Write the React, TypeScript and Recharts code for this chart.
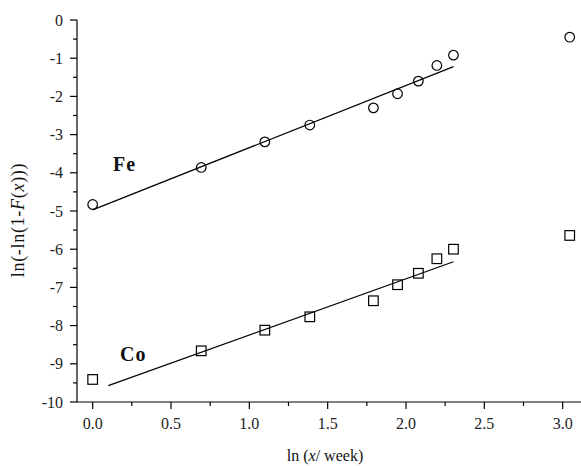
import {
  ComposedChart,
  Scatter,
  XAxis,
  YAxis,
  ReferenceLine,
} from 'recharts';

// ln(week) for weeks 1,2,3,4,6,7,8,9,10,21
const lnWeek = [0, 0.693, 1.099, 1.386, 1.792, 1.946, 2.079, 2.197, 2.303, 3.045];
const feValues = [-4.83, -3.86, -3.19, -2.75, -2.3, -1.93, -1.6, -1.19, -0.92, -0.45];
const coValues = [-9.41, -8.66, -8.12, -7.77, -7.35, -6.93, -6.63, -6.25, -6.0, -5.64];

// fitted lines, end points
const feFit = [
  { x: 0, y: -4.97 },
  { x: 2.303, y: -1.22 },
];
const coFit = [
  { x: 0.1, y: -9.57 },
  { x: 2.303, y: -6.33 },
];

const xMajor = [0, 0.5, 1, 1.5, 2, 2.5, 3];
const xTicks = [0, 0.25, 0.5, 0.75, 1, 1.25, 1.5, 1.75, 2, 2.25, 2.5, 2.75, 3];
const yMajor = [0, -1, -2, -3, -4, -5, -6, -7, -8, -9, -10];
const yTicks = [
  0, -0.5, -1, -1.5, -2, -2.5, -3, -3.5, -4, -4.5, -5, -5.5, -6, -6.5, -7, -7.5,
  -8, -8.5, -9, -9.5, -10,
];

const feData = lnWeek.map((x, i) => ({ x, y: feValues[i] }));
const coData = lnWeek.map((x, i) => ({ x, y: coValues[i] }));

const FONT = '"Liberation Serif", "Times New Roman", serif';

const XTick = (props: any) => {
  const { x, y, payload } = props;
  const major = xMajor.some((v) => Math.abs(v - payload.value) < 1e-6);
  return (
    <g>
      <line x1={x} y1={y} x2={x} y2={y + (major ? 7 : 4)} stroke='#000' strokeWidth={1.2} />
      {major && (
        <text x={x} y={y + 27} textAnchor='middle' fontSize={16} fontFamily={FONT} fill='#222'>
          {payload.value.toFixed(1)}
        </text>
      )}
    </g>
  );
};

const YTick = (props: any) => {
  const { x, y, payload } = props;
  const major = yMajor.some((v) => Math.abs(v - payload.value) < 1e-6);
  return (
    <g>
      <line x1={x} y1={y} x2={x - (major ? 7 : 4)} y2={y} stroke='#000' strokeWidth={1.2} />
      {major && (
        <text x={x - 14} y={y + 5.5} textAnchor='end' fontSize={16} fontFamily={FONT} fill='#222'>
          {payload.value}
        </text>
      )}
    </g>
  );
};

const CircleMark = (props: any) => (
  <circle cx={props.cx} cy={props.cy} r={4.8} fill='none' stroke='#000' strokeWidth={1.2} />
);

const SquareMark = (props: any) => (
  <rect x={props.cx - 4.8} y={props.cy - 4.8} width={9.6} height={9.6} fill='none' stroke='#000' strokeWidth={1.2} />
);

const App = () => {
  return (
    <div style={{ position: 'absolute', left: 0, top: 0, background: '#fff' }}>
      <ComposedChart
        width={581}
        height={466}
        margin={{ top: 20, right: 0, bottom: 0, left: 0 }}
      >
        <XAxis
          type='number'
          dataKey='x'
          domain={[-0.1, 3.117]}
          ticks={xTicks}
          interval={0}
          allowDataOverflow
          height={64}
          tickSize={0}
          tickMargin={0}
          tick={<XTick />}
          axisLine={{ stroke: '#000', strokeWidth: 1.2 }}
        />
        <YAxis
          type='number'
          dataKey='y'
          domain={[-10, 0]}
          ticks={yTicks}
          interval={0}
          allowDataOverflow
          width={77}
          tickSize={0}
          tickMargin={0}
          tick={<YTick />}
          axisLine={{ stroke: '#000', strokeWidth: 1.2 }}
        />
        <ReferenceLine segment={feFit} stroke='#000' strokeWidth={1.2} ifOverflow='visible' />
        <ReferenceLine segment={coFit} stroke='#000' strokeWidth={1.2} ifOverflow='visible' />
        <Scatter data={feData} shape={<CircleMark />} isAnimationActive={false} />
        <Scatter data={coData} shape={<SquareMark />} isAnimationActive={false} />
        <text x={113} y={171} fontSize={20} fontWeight='bold' letterSpacing={1} fontFamily={FONT} fill='#111'>
          Fe
        </text>
        <text x={120} y={361} fontSize={20} fontWeight='bold' letterSpacing={1} fontFamily={FONT} fill='#111'>
          Co
        </text>
        <text x={325} y={461} textAnchor='middle' fontSize={16} fontFamily={FONT} fill='#111'>
          ln (<tspan fontStyle='italic'>x</tspan>/ week)
        </text>
        <text
          x={0}
          y={0}
          transform='translate(24, 220) rotate(-90)'
          textAnchor='middle'
          fontSize={18}
          letterSpacing={0.7}
          fontFamily={FONT}
          fill='#111'
        >
          ln(-ln(1-<tspan fontStyle='italic'>F</tspan>(<tspan fontStyle='italic'>x</tspan>)))
        </text>
      </ComposedChart>
    </div>
  );
};

export default App;
